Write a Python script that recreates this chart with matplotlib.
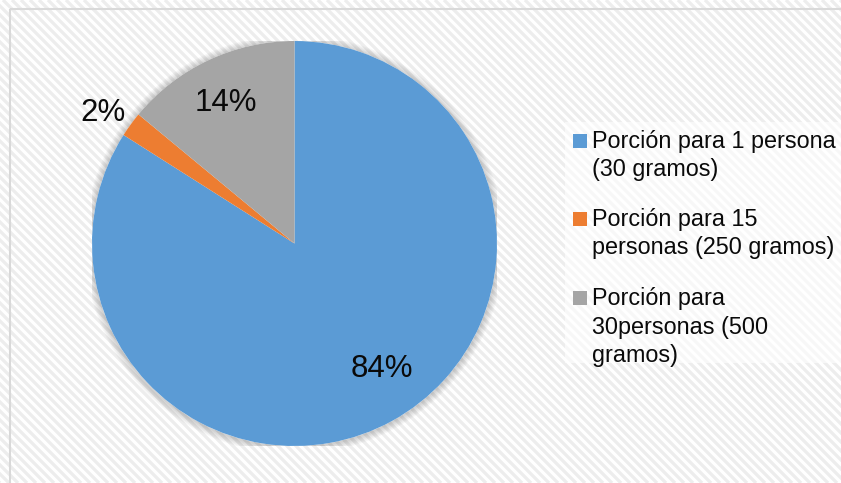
import numpy as np
import matplotlib.pyplot as plt
from matplotlib.patches import Rectangle, Circle
from matplotlib.collections import LineCollection

plt.rcParams['font.family'] = ['Liberation Sans', 'DejaVu Sans']

# Data
categories = ['Porción para 1 persona\n(30 gramos)',
              'Porción para 15\npersonas (250 gramos)',
              'Porción para\n30personas (500\ngramos)']
shares = [84, 2, 14]
colors = ['#5B9BD5', '#ED7D31', '#A5A5A5']

# Label positions in pie-radius units
label_xy = [(0.43, -0.62), (-0.946, 0.645), (-0.338, 0.695)]

W, H = 841, 483
fig = plt.figure(figsize=(W / 100, H / 100), dpi=100)

# Background axes in pixel units (y downward)
bg = fig.add_axes([0, 0, 1, 1])
bg.set_xlim(0, W)
bg.set_ylim(H, 0)
bg.axis('off')
frame = Rectangle((10, 9), W, H, facecolor='white', edgecolor='none', zorder=0)
bg.add_patch(frame)

# diagonal stripe texture
starts = np.arange(-H, W + 10, 9)
segs = [[(x0, 0), (x0 + H, H)] for x0 in starts]
stripes = LineCollection(segs, colors='#ededed', linewidths=2.3, zorder=0.5)
stripes.set_clip_path(frame)
bg.add_collection(stripes)

bg.add_patch(Rectangle((10, 9), W, H, facecolor='none', edgecolor='#d9d9d9',
                       linewidth=1.5, zorder=2))
# Legend panel
bg.add_patch(Rectangle((565, 122), W - 565, 241, facecolor='white',
                       edgecolor='none', alpha=0.6, zorder=1))

# Pie
cx, cy, r = 294.5, 243.5, 202.5
ax = fig.add_axes([(cx - r) / W, (H - cy - r) / H, 2 * r / W, 2 * r / H])
ax.axis('off')

# soft shadow around the pie
for k in range(1, 7):
    ax.add_patch(Circle((0, -0.004), 1 + k * 0.006, facecolor='#000000',
                        alpha=0.03, edgecolor='none', zorder=0))
ax.add_patch(Circle((0, 0), 1, facecolor='white', edgecolor='none', zorder=0.5))

ax.pie(shares, colors=colors, startangle=90, counterclock=False, radius=1,
       wedgeprops=dict(linewidth=0))
ax.set_xlim(-1, 1)
ax.set_ylim(-1, 1)
ax.set_aspect('equal')

for (x, y), v in zip(label_xy, shares):
    ax.text(x, y, f'{v}%', fontsize=22.5, ha='center', va='center', color='#0a0a0a')

# Legend
line_step = 28.5
entry_baselines = [147.5, 225.5, 305]
for label, col, yb in zip(categories, colors, entry_baselines):
    nlines = label.count('\n') + 1
    bg.add_patch(Rectangle((573.5, yb - 14), 14, 14, facecolor=col,
                           edgecolor='none', zorder=3))
    bg.text(592, yb + (nlines - 1) * line_step, label, fontsize=16.8,
            va='baseline', ha='left', linespacing=1.3, color='#0a0a0a', zorder=3)

fig.savefig('out.png', dpi=100)
